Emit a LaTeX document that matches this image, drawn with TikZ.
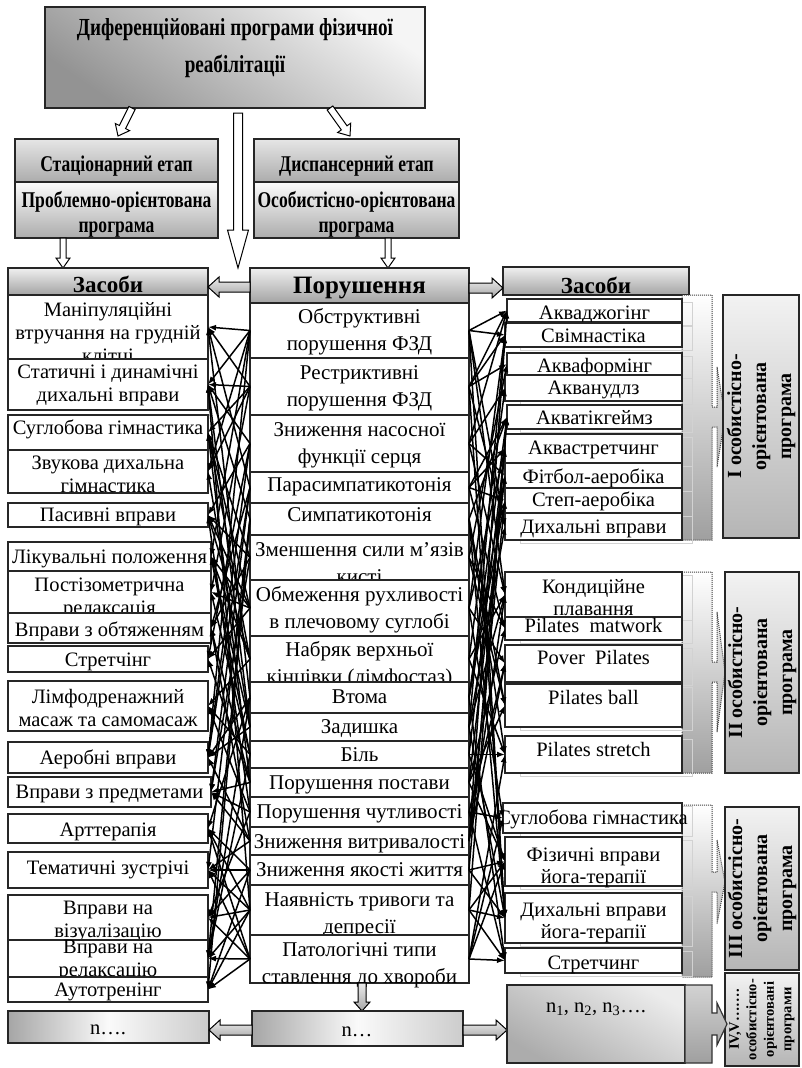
\documentclass[tikz,border=0pt]{standalone}
\usepackage{fontspec}
\setmainfont{Liberation Serif}
\newfontfamily\condfont[FakeStretch=0.78]{Liberation Serif}
\usetikzlibrary{arrows.meta}

% boxes given by pixel corners (x1,y1) -- (x2,y2), y growing downwards;
% the text position is the baseline of the last text line
\newcommand\panel[6]{%
  \node[frame, #6, minimum width={(#4-#2)*1pt}, minimum height={(#5-#3)*1pt}] (#1) at (#2,#3) {};}
\newcommand\cell[7]{%
  \panel{#1}{#2}{#3}{#4}{#5}{fill=white}%
  \node[celltext] (#1t) at ({(#2+#4)/2},#6) {#7};}
% hollow block arrow: start x, start y, angle, length, shaft half width, head half width, head length, style
\newcommand\harrow[8]{%
  \begin{scope}[shift={(#1,#2)}, rotate=#3]
    \draw[#8] (0,-#5) -- ({#4-#7},-#5) -- ({#4-#7},-#6) -- (#4,0) -- ({#4-#7},#6) -- ({#4-#7},#5) -- (0,#5) -- cycle;
  \end{scope}}

\tikzset{
  frame/.style={draw=black!85, line width=1.3pt, inner sep=0pt, outer sep=0pt, anchor=north west},
  celltext/.style={anchor=base, align=center, inner sep=0pt, font=\fontsize{20.5}{23}\selectfont},
  titleshade/.style={top color=gray!8, bottom color=gray!85, shading angle=-35},
  stageA/.style={top color=gray!20, bottom color=gray!65},
  stageB/.style={top color=gray!3, bottom color=gray!65},
  hdrshade/.style={top color=gray!12, bottom color=gray!72},
  stripshade/.style={top color=white, bottom color=gray!75, draw=black!75, line width=1pt, densely dotted},
  lblshade/.style={top color=gray!10, bottom color=gray!58},
  nshade/.style={left color=gray!70, right color=gray!40, middle color=gray!4},
  ivshade/.style={top color=gray!15, bottom color=gray!65, shading angle=-30},
  hollow/.style={draw=black, line width=1pt, fill=white},
  grayarrow/.style={draw=black, line width=1pt, top color=gray!15, bottom color=gray!70},
  shadowline/.style={draw=gray!35, line width=1pt},
  conn/.style={draw=black, line width=1.5pt, -{Latex[length=8pt,width=6pt]}},
  headtext/.style={anchor=base, inner sep=0pt, font=\bfseries\fontsize{23}{27}\selectfont},
  condtext/.style={anchor=base, align=center, inner sep=0pt},
  grouptext/.style={rotate=90, align=center, inner sep=0pt, font=\bfseries\fontsize{20}{25}\selectfont}
}

\begin{document}
\begin{tikzpicture}[x=1pt, y=-1pt]
\useasboundingbox (0,0) rectangle (801,1068);
\fill[white] (0,0) rectangle (801,1068);

% ---------- title and stages ----------
\panel{ttl}{45}{7}{425}{108}{titleshade, line width=1.6pt}
\node[condtext, font=\condfont\bfseries\fontsize{24.5}{37}\selectfont] (ttlt) at (235,72) {Диференційовані програми фізичної\\реабілітації};

\harrow{132}{108}{-116.57}{31.3}{3.5}{8}{10}{hollow}
\harrow{330}{108}{-54.46}{34.4}{3.5}{8}{10}{hollow}
\harrow{238}{113}{-90}{155}{4.5}{10.5}{38}{hollow}

\panel{stA}{15}{139}{218}{182}{stageA}
\panel{stB}{15}{182}{218}{238}{stageB}
\node[condtext, font=\condfont\bfseries\fontsize{22.5}{25}\selectfont] (stAt) at (116.5,171) {Стаціонарний етап};
\node[condtext, font=\condfont\bfseries\fontsize{22.5}{25}\selectfont] (stBt) at (116.5,232) {Проблемно-орієнтована\\програма};
\panel{dsA}{254}{139}{459}{182}{stageA}
\panel{dsB}{254}{182}{459}{238}{stageB}
\node[condtext, font=\condfont\bfseries\fontsize{22.5}{25}\selectfont] (dsAt) at (356.5,171) {Диспансерний етап};
\node[condtext, font=\condfont\bfseries\fontsize{22.5}{25}\selectfont] (dsBt) at (356.5,232) {Особистісно-орієнтована\\програма};

\harrow{63}{238}{-90}{30}{3}{7}{10}{hollow}
\harrow{388}{238}{-90}{30}{3}{7}{10}{hollow}

% ---------- column headers ----------
\panel{hl}{8}{268}{208}{295}{hdrshade}
\node[headtext] (hlt) at (108,292) {Засоби};
\panel{hm}{250}{268}{469}{303}{hdrshade}
\node[headtext, font=\bfseries\fontsize{25}{27}\selectfont] (hmt) at (359.5,293) {Порушення};
\panel{hr}{503}{267}{689}{295}{hdrshade}
\node[headtext] (hrt) at (596,293) {Засоби};
\harrow{250}{287}{180}{42}{5}{10}{11}{grayarrow}
\harrow{469}{288}{0}{34}{5}{10}{11}{grayarrow}

% ---------- left column: means of the inpatient stage ----------
\cell{l1}{8}{295}{208}{359}{362}{Маніпуляційні\\втручання на грудній\\клітці}
\cell{l2}{8}{359}{208}{410}{401}{Статичні і динамічні\\дихальні вправи}
\cell{l3}{8}{415}{208}{450}{434}{Суглобова гімнастика}
\cell{l4}{8}{450}{208}{493}{492}{Звукова дихальна\\гімнастика}
\cell{l5}{8}{503}{208}{527}{521}{Пасивні вправи}
\cell{l6}{8}{542}{211}{571}{563}{Лікувальні положення}
\cell{l7}{8}{571}{211}{613}{614}{Постізометрична\\релаксація}
\cell{l8}{8}{613}{211}{643}{636}{Вправи з обтяженням}
\cell{l9}{8}{646}{208}{672}{666}{Стретчінг}
\cell{l10}{8}{681}{208}{731}{726}{Лімфодренажний\\масаж та самомасаж}
\cell{l11}{8}{742}{208}{773}{764}{Аеробні вправи}
\cell{l12}{8}{777}{211}{807}{798}{Вправи з предметами}
\cell{l13}{8}{814}{208}{843}{836}{Арттерапія}
\cell{l14}{8}{852}{208}{888}{874}{Тематичні зустрічі}
\cell{l15}{8}{895}{208}{940}{937}{Вправи на\\візуалізацію}
\cell{l16}{8}{940}{208}{977}{976}{Вправи на\\релаксацію}
\cell{l17}{8}{977}{208}{1002}{996}{Аутотренінг}

% ---------- middle column: disorders ----------
\begin{scope}[celltext/.append style={font=\fontsize{21}{27.5}\selectfont}]
\cell{m1}{250}{303}{469}{358}{350.5}{Обструктивні\\порушення ФЗД}
\cell{m2}{250}{358}{469}{415}{406.5}{Рестриктивні\\порушення ФЗД}
\cell{m3}{250}{415}{469}{472}{463.5}{Зниження насосної\\функції серця}
\cell{m4}{250}{472}{469}{503}{491}{Парасимпатикотонія}
\cell{m5}{250}{503}{469}{535}{521}{Симпатикотонія}
\cell{m6}{250}{535}{469}{580}{583.5}{Зменшення сили м'язів\\кисті}
\cell{m7}{250}{580}{469}{636}{628.5}{Обмеження рухливості\\в плечовому суглобі}
\cell{m8}{250}{636}{469}{682}{683.5}{Набряк верхньої\\кінцівки (лімфостаз)}
\cell{m9}{250}{682}{469}{713}{703}{Втома}
\cell{m10}{250}{713}{469}{741}{733}{Задишка}
\cell{m11}{250}{741}{469}{768}{761}{Біль}
\cell{m12}{250}{768}{469}{797}{789}{Порушення постави}
\cell{m13}{250}{797}{469}{827}{818}{Порушення чутливості}
\cell{m14}{250}{827}{469}{855}{848}{Зниження витривалості}
\cell{m15}{250}{855}{469}{885}{876}{Зниження якості життя}
\cell{m16}{250}{885}{469}{935}{933.5}{Наявність тривоги та\\депресії}
\cell{m17}{250}{935}{469}{983}{983.5}{Патологічні типи\\ставлення до хвороби}
\end{scope}

% ---------- right column: programme strips ----------
\draw[stripshade] (682,295) -- (712,295) -- (712,407) -- (717,407) -- (717,367) -- (725,417) -- (717,467) -- (717,427) -- (712,427) -- (712,540) -- (682,540) -- cycle;
\draw[stripshade] (682,572) -- (712,572) -- (712,662) -- (717,662) -- (717,612) -- (725,672) -- (717,732) -- (717,682) -- (712,682) -- (712,773) -- (682,773) -- cycle;
\draw[stripshade] (682,805) -- (712,805) -- (712,872) -- (717,872) -- (717,840) -- (725,882) -- (717,924) -- (717,892) -- (712,892) -- (712,977) -- (682,977) -- cycle;

\foreach \ya/\yb in {299/322,323/347,353/375,375/401,405/429,434/463,463/488,488/513,513/540,
                     572/617,617/640,645/682,684/727,736/773,803/833,837/886,893/943,948/973}
  \draw[shadowline] (520,\ya+3) rectangle (692,\yb+3);

\panel{g1}{723}{295}{799}{538}{lblshade}
\panel{g2}{725}{572}{799}{773}{lblshade}
\panel{g3}{725}{807}{799}{970}{lblshade}
\panel{g4}{725}{973}{799}{1066}{lblshade}
\node[grouptext] (g1t) at (g1.center) {I особистісно-\\орієнтована\\програма};
\node[grouptext] (g2t) at (g2.center) {II особистісно-\\орієнтована\\програма};
\node[grouptext] (g3t) at (g3.center) {III особистісно-\\орієнтована\\програма};
\node[grouptext, font=\bfseries\fontsize{14.5}{17.5}\selectfont] (g4t) at (g4.center) {IV,V…….\\особистісно-\\орієнтовані\\програми};

\begin{scope}[celltext/.append style={font=\fontsize{20.5}{22.5}\selectfont}]
\cell{r1}{507}{299}{682}{322}{319}{Акваджогінг}
\cell{r2}{505}{323}{682}{347}{342}{Свімнастіка}
\cell{r3}{507}{353}{682}{375}{372}{Акваформінг}
\cell{r4}{505}{375}{682}{401}{394}{Акванудлз}
\cell{r5}{507}{405}{682}{429}{424}{Акватікгеймз}
\cell{r6}{505}{434}{682}{463}{454}{Аквастретчинг}
\cell{r7}{505}{463}{682}{488}{483}{Фітбол-аеробіка}
\cell{r8}{505}{488}{682}{513}{506}{Степ-аеробіка}
\cell{r9}{505}{513}{682}{540}{533}{Дихальні вправи}
\cell{r10}{505}{572}{682}{617}{615.5}{Кондиційне\\плавання}
\cell{r11}{505}{617}{682}{640}{632}{Pilates\ \ matwork}
\cell{r12}{505}{645}{682}{682}{664}{Pover\ \ Pilates}
\cell{r13}{505}{684}{682}{727}{704}{Pilates ball}
\cell{r14}{505}{736}{682}{773}{756}{Pilates stretch}
\cell{r15}{503}{803}{682}{833}{824}{Суглобова гімнастика}
\cell{r16}{505}{837}{682}{886}{883.5}{Фізичні вправи\\йога-терапії}
\cell{r17}{505}{893}{682}{943}{938.5}{Дихальні вправи\\йога-терапії}
\cell{r18}{505}{948}{682}{973}{969}{Стретчинг}
\end{scope}

% ---------- bottom row ----------
\harrow{362}{983}{-90}{28}{4}{8}{9}{grayarrow}
\panel{ln}{8}{1011}{209}{1043}{nshade}
\node[celltext] (lnt) at (108,1034) {n….};
\panel{mn}{252}{1011}{463}{1046}{nshade}
\node[celltext] (mnt) at (357,1036) {n…};
\harrow{252}{1030}{180}{43}{5}{10}{11}{grayarrow}
\harrow{463}{1030}{0}{44}{5}{10}{11}{grayarrow}
\panel{rn}{507}{985}{685}{1063}{ivshade}
\draw[draw=black!80, line width=1.2pt, top color=gray!35, bottom color=gray!75] (685,985) -- (712,985) -- (712,1013) -- (717,1013) -- (717,1003) -- (727,1024) -- (717,1045) -- (717,1035) -- (712,1035) -- (712,1063) -- (685,1063) -- cycle;
\node[celltext] (rnt) at (596,1012) {n\textsubscript{1}, n\textsubscript{2}, n\textsubscript{3}….};

% ---------- links from disorders to means ----------
\foreach \a/\b in {1/1,1/2,1/4,1/6,1/11, 2/1,2/2,2/3,2/4,2/7, 3/2,3/5,3/11,3/9,
  4/8,4/11,4/12,4/1, 5/2,5/14,5/16,5/17, 6/3,6/8,6/12,6/5, 7/3,7/5,7/6,7/7,7/9,
  8/6,8/10,8/5,8/3, 9/11,9/13,9/16,9/1, 10/2,10/4,10/11,10/6, 11/6,11/7,11/10,11/16,
  12/3,12/8,12/12,12/9, 13/10,13/12,13/5,13/15, 14/11,14/8,14/12,14/14,
  15/13,15/14,15/15,15/17, 16/13,16/14,16/15,16/16,16/17,16/2, 17/13,17/14,17/15,17/17,17/16}
  \draw[conn] (m\a.west) -- (l\b.east);

\foreach \a/\b in {1/1,1/2,1/9,1/10,1/17, 2/2,2/3,2/9,2/17,2/1, 3/1,3/4,3/7,3/10,
  4/6,4/8,4/11,4/5, 5/5,5/14,5/17,5/13, 6/3,6/11,6/13, 7/2,7/6,7/12,7/15,
  8/4,8/10,8/14, 9/5,9/7,9/18,9/8, 10/9,10/10,10/17,10/2, 11/6,11/14,11/16,
  12/7,12/11,12/13,12/16, 13/15,13/18,13/12, 14/1,14/8,14/10,14/12,
  15/5,15/16,15/17, 16/5,16/16,16/17,16/18, 17/14,17/16,17/18,17/15}
  \draw[conn] (m\a.east) -- (r\b.west);
\end{tikzpicture}
\end{document}
